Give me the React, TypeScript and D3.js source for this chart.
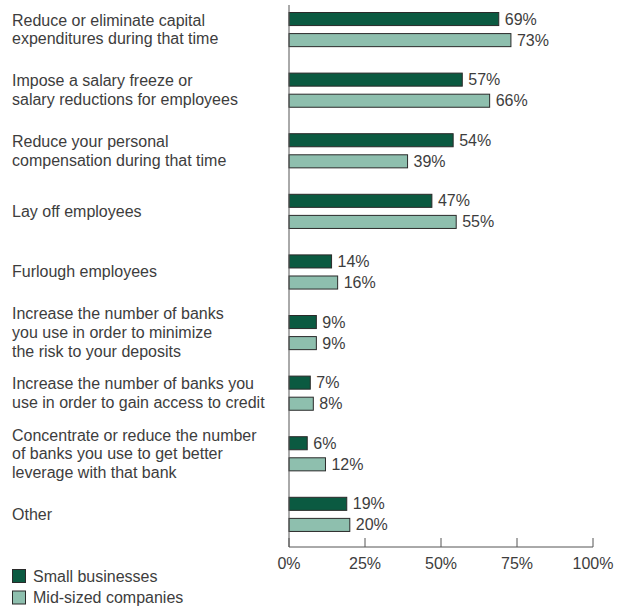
import React from "react";
import * as d3 from "d3";

const categories: string[][] = [
  ["Reduce or eliminate capital", "expenditures during that time"],
  ["Impose a salary freeze or", "salary reductions for employees"],
  ["Reduce your personal", "compensation during that time"],
  ["Lay off employees"],
  ["Furlough employees"],
  ["Increase the number of banks", "you use in order to minimize", "the risk to your deposits"],
  ["Increase the number of banks you", "use in order to gain access to credit"],
  ["Concentrate or reduce the number", "of banks you use to get better", "leverage with that bank"],
  ["Other"],
];
const smallBusinesses = [69, 57, 54, 47, 14, 9, 7, 6, 19];
const midSized = [73, 66, 39, 55, 16, 9, 8, 12, 20];
const seriesNames = ["Small businesses", "Mid-sized companies"];
const seriesColors = ["#0b5a41", "#8ebfae"];
const ticks = [0, 25, 50, 75, 100];

export default function App() {
  const W = 629, H = 607;
  const x0 = 289, x1 = 593;
  const step = 60.6;
  const p = 0.42;
  const ids = categories.map((_, i) => String(i));
  const x = d3.scaleLinear().domain([0, 100]).range([x0, x1]);
  const y = d3
    .scaleBand<string>()
    .domain(ids)
    .range([12 - (step * p) / 2, 12 - (step * p) / 2 + step * ids.length])
    .paddingInner(p)
    .paddingOuter(p / 2);
  const inner = d3
    .scaleBand<string>()
    .domain(["0", "1"])
    .range([0, y.bandwidth()])
    .paddingInner(1 / 3);
  const series = [smallBusinesses, midSized];
  const axisY = 547;
  const textColor = "#3d3d3d";
  const font = "'Liberation Sans', Arial, Helvetica, sans-serif";
  const lh = 18.7;

  return (
    <svg
      width={W}
      height={H}
      style={{ position: "absolute", left: 0, top: 0, background: "#fff" }}
      fontFamily={font}
    >
      {categories.map((lines, i) => {
        const cy = (y(ids[i]) as number) + y.bandwidth() / 2;
        const startY = cy - ((lines.length - 1) * lh) / 2;
        return (
          <text key={"c" + i} x={12} fontSize={16} fill={textColor}>
            {lines.map((l, j) => (
              <tspan key={j} x={12} y={startY + j * lh} dominantBaseline="central">
                {l}
              </tspan>
            ))}
          </text>
        );
      })}
      {series.map((vals, s) =>
        vals.map((v, i) => {
          const by = (y(ids[i]) as number) + (inner(String(s)) as number);
          return (
            <g key={`b${s}-${i}`}>
              <rect
                x={x(0)}
                y={by + 0.5}
                width={x(v) - x(0)}
                height={inner.bandwidth() - 1}
                fill={seriesColors[s]}
                stroke="#2a2a2a"
                strokeWidth={1}
              />
              <text
                x={x(v) + 6}
                y={by + inner.bandwidth() / 2}
                dominantBaseline="central"
                fontSize={16}
                fill={textColor}
              >
                {v}%
              </text>
            </g>
          );
        })
      )}
      <line x1={x0} x2={x0} y1={5} y2={axisY} stroke="#555" strokeWidth={1} />
      <line x1={x0} x2={x1} y1={axisY} y2={axisY} stroke="#555" strokeWidth={1} />
      {ticks.map((t) => (
        <g key={"t" + t}>
          <line x1={x(t)} x2={x(t)} y1={axisY - 9} y2={axisY} stroke="#555" strokeWidth={1} />
          <text
            x={x(t)}
            y={563}
            textAnchor="middle"
            dominantBaseline="central"
            fontSize={16}
            fill={textColor}
          >
            {t}%
          </text>
        </g>
      ))}
      {seriesNames.map((n, s) => (
        <g key={"l" + s}>
          <rect
            x={12.5}
            y={569.5 + s * 21.5}
            width={13}
            height={13}
            fill={seriesColors[s]}
            stroke="#2a2a2a"
          />
          <text
            x={33}
            y={576 + s * 21.5}
            dominantBaseline="central"
            fontSize={16}
            fill={textColor}
          >
            {n}
          </text>
        </g>
      ))}
    </svg>
  );
}
